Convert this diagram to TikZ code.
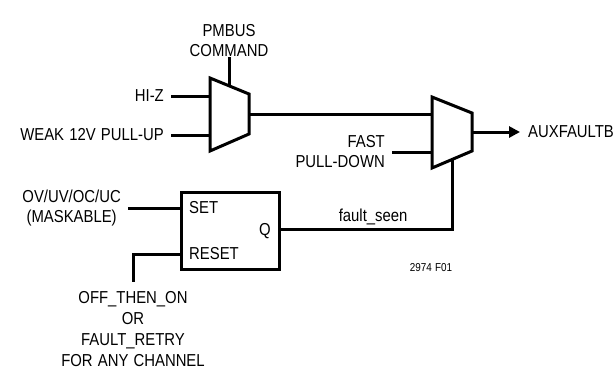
\documentclass[tikz,border=0pt]{standalone}
\usepackage{fontspec}
\setmainfont{Liberation Sans}[FakeStretch=0.86,WordSpace=1.25]
\usetikzlibrary{arrows.meta,calc}
\tikzset{
    lbl/.style={inner sep=0pt,inner xsep=7pt,font=\fontsize{17.3}{20}\selectfont},
    wire/.style={line width=3pt},
}
\begin{document}
\begin{tikzpicture}[x=1pt,y=-1pt,>={Triangle[length=11pt,width=11pt]}]
    \useasboundingbox (0,0) rectangle (616,370);

    % First multiplexer
    \coordinate (mux1tl) at (210,78);
    \coordinate (mux1bl) at (210,151);
    \coordinate (mux1tr) at (249,94);
    \coordinate (mux1br) at (249,134);
    \coordinate (mux1in1) at (210,96);
    \coordinate (mux1in2) at (210,135);
    \coordinate (mux1sel) at (229,85.8);
    \coordinate (mux1out) at (249,114);
    \draw[wire,line join=miter] (mux1tl)--(mux1tr)--(mux1br)--(mux1bl)--cycle;

    % Second multiplexer
    \coordinate (mux2tl) at (432,97);
    \coordinate (mux2bl) at (432,168);
    \coordinate (mux2tr) at (472,113);
    \coordinate (mux2br) at (472,151);
    \coordinate (mux2in1) at (432,114);
    \coordinate (mux2in2) at (432,152);
    \coordinate (mux2sel) at (452,159.5);
    \coordinate (mux2out) at (472,132);
    \draw[wire,line join=miter] (mux2tl)--(mux2tr)--(mux2br)--(mux2bl)--cycle;

    % Latch
    \node[draw,wire,minimum width=98pt,minimum height=77pt,inner sep=0pt] (latch) at (230,230.5) {};
    \node[lbl,anchor=west,inner xsep=0pt] (set) at (189,208) {SET};
    \node[lbl,anchor=west,inner xsep=0pt] (reset) at (189,254) {RESET};
    \node[lbl,anchor=east,inner xsep=0pt] (q) at (271,231) {Q};

    % Inputs and outputs
    \node[lbl,align=center,anchor=south] (pmbus) at (229,57) {PMBUS\\COMMAND};
    \node[lbl,anchor=east] (hiz) at (171,96) {HI-Z};
    \node[lbl,anchor=east] (weak) at (171,135) {WEAK 12V PULL-UP};
    \node[lbl,align=right,anchor=east] (fast) at (392,152) {FAST\\PULL-DOWN};
    \node[lbl,anchor=west,inner xsep=8pt] (aux) at (520,132) {AUXFAULTB};
    \node[lbl,align=center,anchor=east] (ovuv) at (128,208) {OV/UV/OC/UC\\(MASKABLE)};
    \node[lbl,align=center,anchor=north,inner ysep=9pt,font=\fontsize{17.3}{21}\selectfont]
        (retry) at (133,282) {OFF\_THEN\_ON\\OR\\FAULT\_RETRY\\FOR ANY CHANNEL};
    \node[font=\fontsize{11.5}{13}\selectfont] (fig) at (431,268) {2974 F01};

    % Link the different parts of the graph
    \draw[wire] (pmbus.south)--(mux1sel);
    \draw[wire] (hiz.east)--(mux1in1);
    \draw[wire] (weak.east)--(mux1in2);
    \draw[wire] (mux1out)--(mux2in1);
    \draw[wire] (fast.east)--(mux2in2);
    \draw[wire,->] (mux2out)--(aux.west);
    \draw[wire] (ovuv.east)--(ovuv.east -| latch.west);
    \draw[wire] (latch.west |- reset)-|(retry.north);
    \draw[wire] (latch.east |- 0,229.5)-|(mux2sel)
        node[pos=.27,above=3pt,lbl,inner xsep=0pt] {fault\_seen};
\end{tikzpicture}
\end{document}
